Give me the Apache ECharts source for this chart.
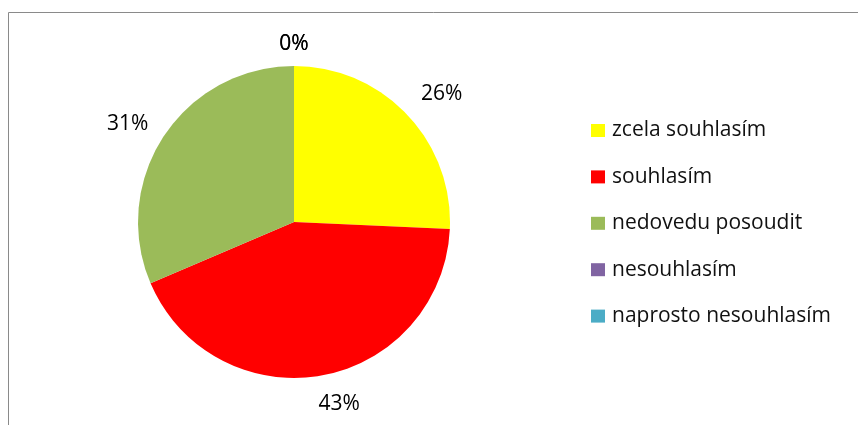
<!DOCTYPE html>
<html><head><meta charset="utf-8">
<script src="https://cdn.jsdelivr.net/npm/echarts@6/dist/echarts.min.js"></script>
<style>html,body{margin:0;padding:0;background:#fff}#c{width:858px;height:425px}</style>
</head><body><div id="c"></div>
<script>
const categories = ['zcela souhlasím','souhlasím','nedovedu posoudit','nesouhlasím','naprosto nesouhlasím'];
const counts = [9, 15, 11, 0, 0];
const colors = ['#FFFF00','#FF0000','#9BBB59','#8064A2','#4BACC6'];

const chart = echarts.init(document.getElementById('c'), null, {renderer:'canvas'});
const FONT = '"Open Sans", sans-serif';
const labelNudge = [[4,5],[6,-7],[-1,8],[5,14],[5,14]];
chart.setOption({
  animation: false,
  graphic: [{
    type: 'rect', silent: true,
    shape: {x: 8.5, y: 12.5, width: 900, height: 500},
    style: {fill: 'none', stroke: '#8a8a8a', lineWidth: 1}
  }],
  legend: {
    orient: 'vertical', left: 586, top: 115,
    itemWidth: 14, itemHeight: 13, itemGap: 25.4,
    icon: 'rect',
    selectedMode: false,
    textStyle: {fontFamily: FONT, fontSize: 21, color: '#111', lineHeight: 20, padding: [0,0,0,2]},
    data: categories
  },
  series: [{
    type: 'pie',
    center: [294, 222], radius: 156,
    startAngle: 90, clockwise: true,
    avoidLabelOverlap: false,
    silent: true,
    data: categories.map((n,i)=>({name:n, value:counts[i], itemStyle:{color:colors[i]}})),
    itemStyle: {borderWidth: 0},
    label: {
      show: true, position: 'outside',
      fontFamily: FONT, fontSize: 21, color: '#000',
      formatter: p => Math.round(p.percent) + '%'
    },
    labelLine: {show: false, length: 36, length2: 0},
    labelLayout: p => ({
      align: 'center', verticalAlign: 'middle',
      dx: labelNudge[p.dataIndex][0], dy: labelNudge[p.dataIndex][1]
    }),
    emphasis: {disabled: true}
  }]
});
</script></body></html>
